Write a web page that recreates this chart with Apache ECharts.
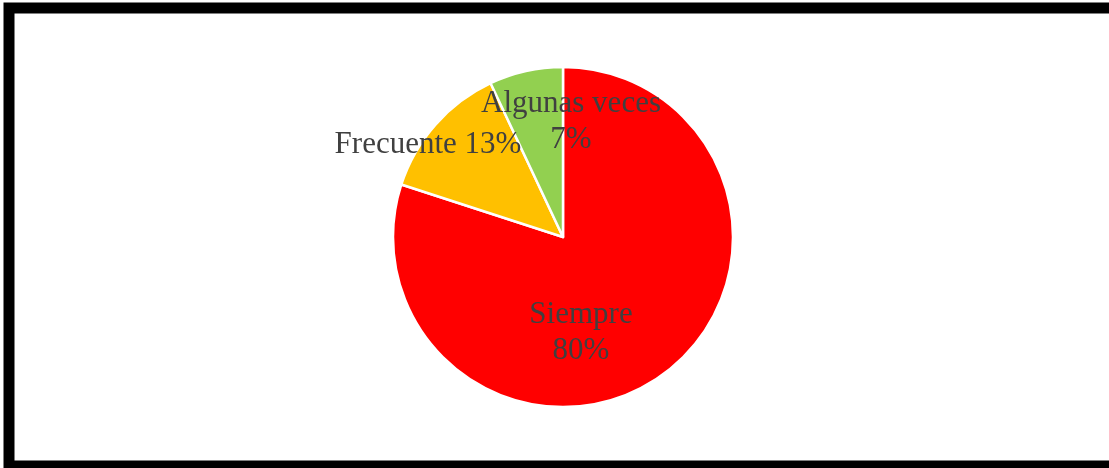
<!DOCTYPE html>
<html>
<head>
<meta charset="utf-8">
<script src="https://cdn.jsdelivr.net/npm/echarts@6/dist/echarts.min.js"></script>
<style>
  html, body { margin: 0; padding: 0; background: #ffffff; }
  #chart { width: 1109px; height: 468px; }
</style>
</head>
<body>
<div id="chart"></div>
<script>
// Frecuencia de respuestas
const categories = ['Siempre', 'Frecuente', 'Algunas veces'];
const values = [80, 13, 7];
const colors = ['#FF0000', '#FFC000', '#92D050'];

// label anchor points (px) and line layout for each slice's text
const labelSpots = [[581, 333], [428, 145], [571, 122]];
const labelMultiline = [true, false, true];

const chart = echarts.init(document.getElementById('chart'), null, { renderer: 'canvas' });

const data = categories.map((name, i) => ({
  name: name,
  value: values[i],
  itemStyle: { color: colors[i] }
}));

chart.setOption({
  backgroundColor: '#ffffff',
  animation: false,
  graphic: [{
    type: 'rect',
    silent: true,
    shape: { x: 9, y: 8, width: 1130, height: 458 },
    style: { fill: 'none', stroke: '#000000', lineWidth: 11 }
  }],
  series: [{
    type: 'pie',
    center: [563, 237],
    radius: [0, 170],
    startAngle: 90,
    clockwise: true,
    avoidLabelOverlap: false,
    emphasis: { disabled: true },
    itemStyle: { borderColor: '#ffffff', borderWidth: 2.5 },
    label: {
      show: true,
      position: 'inside',
      fontFamily: '"Liberation Serif", "Times New Roman", serif',
      fontSize: 31,
      lineHeight: 36,
      color: '#404040',
      align: 'center',
      formatter: function (p) {
        return labelMultiline[p.dataIndex]
          ? p.name + '\n' + p.value + '%'
          : p.name + ' ' + p.value + '%';
      }
    },
    labelLine: { show: false },
    labelLayout: function (params) {
      const s = labelSpots[params.dataIndex];
      return { x: s[0], y: s[1], align: 'center', verticalAlign: 'middle' };
    },
    data: data
  }]
});
</script>
</body>
</html>
